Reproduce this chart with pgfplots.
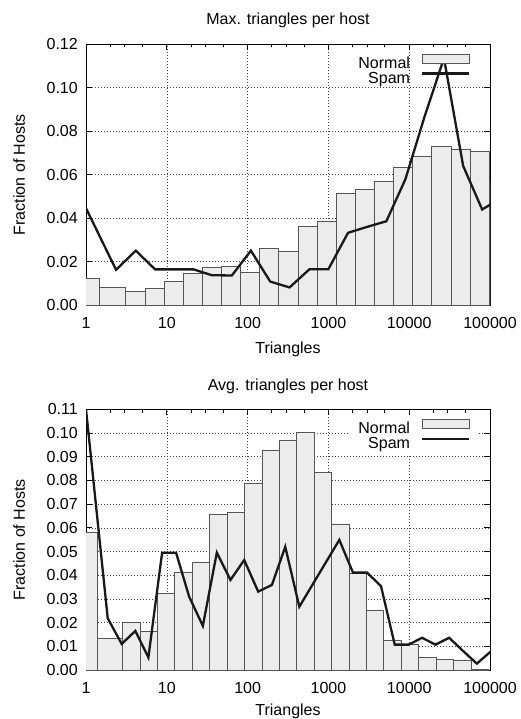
\documentclass[border=0pt]{standalone}
\usepackage{fontspec}
\setmainfont{Liberation Sans}
\usepackage{pgfplots}
\pgfplotsset{compat=1.18}

\definecolor{barfill}{RGB}{236,236,236}
\definecolor{barline}{RGB}{85,85,85}
\definecolor{spamline}{RGB}{25,25,25}

\pgfplotsset{
  every axis title/.style={at={(0.5,1)}, anchor=base, yshift=19.3pt},
  every axis x label/.style={at={(axis description cs:0.5,0)}, anchor=base, yshift=-48pt},
  every axis y label/.style={at={(axis description cs:-0.151,0.5)}, anchor=base, rotate=90, inner sep=0pt},
}

\begin{document}
\begin{tikzpicture}
\path[use as bounding box] (0pt,0pt) rectangle (520pt,-719pt);

% top: maximum triangles per host
\begin{semilogxaxis}[
  at={(86pt,-305.3pt)}, anchor=south west,
  scale only axis, width=404pt, height=261.3pt,
  xmin=1, xmax=100000, ymin=0, ymax=0.12,
  xtick={1,10,100,1000,10000,100000},
  xticklabels={1,10,100,1000,10000,100000},
  minor xtick={2,3,5,20,30,50,200,300,500,2000,3000,5000,20000,30000,50000},
  ytick={0,0.02,0.04,0.06,0.08,0.10,0.12},
  grid=major,
  grid style={black!75, line width=0.6pt, dash pattern=on 0.8pt off 2.2pt},
  major tick length=6pt, minor tick length=3.5pt,
  tick style={black, line width=0.9pt},
  axis line style={black, line width=0.9pt},
  font=\fontsize{16}{19}\selectfont,
  scaled y ticks=false,
  /pgf/number format/assume math mode=true,
  yticklabel style={/pgf/number format/fixed, /pgf/number format/fixed zerofill, /pgf/number format/precision=2, xshift=-4.7pt},
  xticklabel style={anchor=base, yshift=-23pt},
  title={Max. triangles per host},
  xlabel={Triangles}, ylabel={Fraction of Hosts},
  legend cell align=right, legend plot pos=right,
  legend style={at={(0.9715,0.9713)}, anchor=north east, draw=none, fill=none,
    inner xsep=8pt, inner ysep=2pt, column sep=11pt, row sep=0pt,
    nodes={inner sep=0pt, text height=11.5pt, text depth=3.5pt},
    font=\fontsize{16}{19}\selectfont}]
\addplot[ybar interval=0.88, fill=barfill, draw=barline, line width=0.7pt,
  legend image code/.code={\draw[fill=barfill, draw=barline, line width=0.7pt] (0pt,1.25pt) rectangle (47pt,10.25pt);}]
  coordinates {
  (0.7943,0.0122) (1.472,0.0082) (3.109,0.0063) (5.362,0.0078) (9.250,0.0108)
  (15.95,0.0148) (27.51,0.0175) (47.46,0.0178) (81.86,0.0153) (141.1,0.0262)
  (243.4,0.0250) (419.8,0.0362) (724.1,0.0387) (1249,0.0515) (2154,0.0533)
  (3714,0.0571) (6406,0.0634) (11047,0.0683) (19055,0.0732) (32863,0.0714)
  (56675,0.0707) (97724,0.0568) (168500,0)
};
\addplot[spamline, line width=2.3pt, mark=none,
  legend image code/.code={\draw[spamline, line width=2.3pt] (0pt,5.75pt) -- (47pt,5.75pt);}]
  coordinates {
  (1,0.0446) (2.355,0.0163) (4.13,0.0251) (7.161,0.0165) (12.30,0.0165)
  (21.38,0.0165) (36.14,0.0138) (63.83,0.0137) (109.9,0.0251) (190.5,0.0109)
  (330.4,0.0082) (584.8,0.0166) (1000,0.0166) (1750,0.0333) (3006,0.0360)
  (5212,0.0386) (8974,0.0579) (15417,0.0864) (26915,0.1135) (46559,0.0640)
  (79983,0.0440) (138000,0.0493)
};
\legend{Normal,Spam}
\end{semilogxaxis}

% bottom: average triangles per host
\begin{semilogxaxis}[
  at={(86pt,-670pt)}, anchor=south west,
  scale only axis, width=404pt, height=260.7pt,
  xmin=1, xmax=100000, ymin=0, ymax=0.11,
  xtick={1,10,100,1000,10000,100000},
  xticklabels={1,10,100,1000,10000,100000},
  minor xtick={2,3,5,20,30,50,200,300,500,2000,3000,5000,20000,30000,50000},
  ytick={0,0.01,0.02,0.03,0.04,0.05,0.06,0.07,0.08,0.09,0.10,0.11},
  grid=major,
  grid style={black!75, line width=0.6pt, dash pattern=on 0.8pt off 2.2pt},
  major tick length=6pt, minor tick length=3.5pt,
  tick style={black, line width=0.9pt},
  axis line style={black, line width=0.9pt},
  font=\fontsize{16}{19}\selectfont,
  scaled y ticks=false,
  /pgf/number format/assume math mode=true,
  yticklabel style={/pgf/number format/fixed, /pgf/number format/fixed zerofill, /pgf/number format/precision=2, xshift=-4.7pt},
  xticklabel style={anchor=base, yshift=-23pt},
  title={Avg. triangles per host},
  xlabel={Triangles}, ylabel={Fraction of Hosts},
  xlabel style={yshift=3pt},
  legend cell align=right, legend plot pos=right,
  legend style={at={(0.9715,0.9713)}, anchor=north east, draw=none, fill=white,
    inner xsep=8pt, inner ysep=2pt, column sep=11pt, row sep=0pt,
    nodes={inner sep=0pt, text height=11.5pt, text depth=3.5pt},
    font=\fontsize{16}{19}\selectfont}]
\addplot[ybar interval=0.856, fill=barfill, draw=barline, line width=0.7pt,
  legend image code/.code={\draw[fill=barfill, draw=barline, line width=0.7pt] (0pt,1.25pt) rectangle (47pt,10.25pt);}]
  coordinates {
  (0.7586,0.0580) (1.366,0.0134) (2.831,0.0201) (4.652,0.0162) (7.642,0.0323)
  (12.56,0.0412) (20.63,0.0454) (33.88,0.0655) (55.67,0.0665) (91.46,0.0788)
  (150.3,0.0928) (246.9,0.0968) (405.5,0.1003) (666.2,0.0834) (1094,0.0615)
  (1798,0.0408) (2954,0.0252) (4853,0.0125) (7973,0.0110) (13098,0.0052)
  (21519,0.0046) (35352,0.0039) (58076,0.0004) (95414,0)
};
\addplot[spamline, line width=2.3pt, mark=none,
  legend image code/.code={\draw[spamline, line width=2.3pt] (0pt,5.75pt) -- (47pt,5.75pt);}]
  coordinates {
  (1,0.1100) (1.858,0.0218) (2.767,0.0110) (4.083,0.0165) (5.916,0.0053)
  (8.750,0.0495) (13.03,0.0495) (18.88,0.0310) (27.93,0.0186) (41.59,0.0495)
  (61.38,0.0380) (90.78,0.0464) (135.2,0.0331) (200.0,0.0359) (292.4,0.0520)
  (436.5,0.0267) (638.3,0.0361) (933.3,0.0455) (1365,0.0549) (2014,0.0411)
  (3006,0.0411) (4477,0.0354) (6622,0.0107) (9863,0.0107) (14421,0.0136)
  (21135,0.0107) (31189,0.0136) (46559,0.0080) (68707,0.0027) (101400,0.0077)
};
\legend{Normal,Spam}
\end{semilogxaxis}
\end{tikzpicture}
\end{document}
